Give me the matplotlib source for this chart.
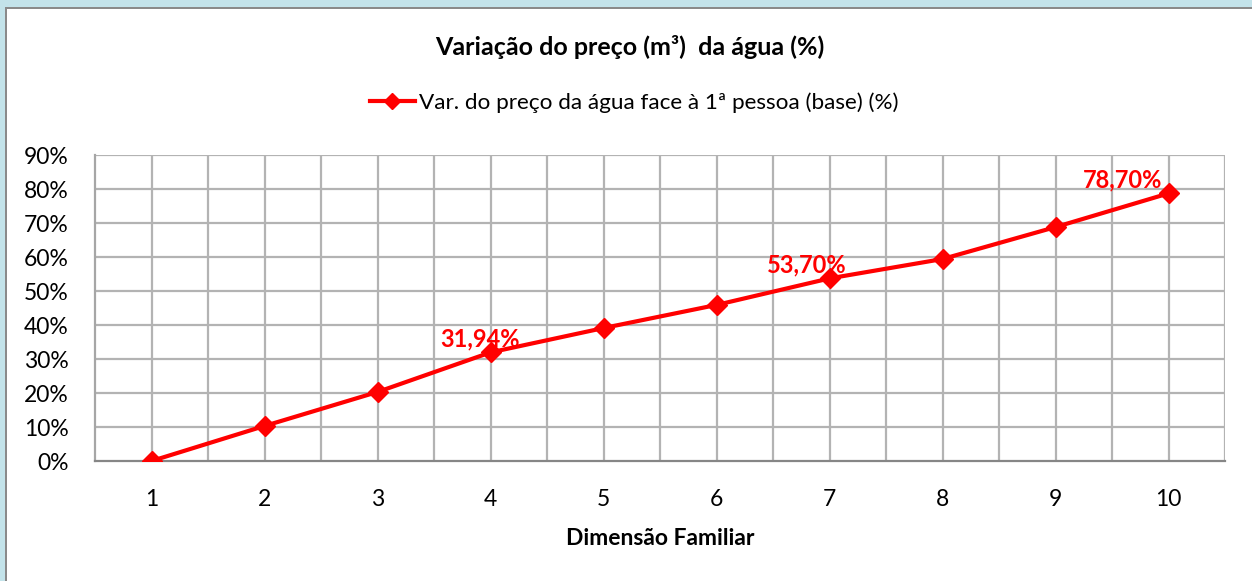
import matplotlib
matplotlib.use("Agg")
import matplotlib.pyplot as plt
from matplotlib.patches import Rectangle
from matplotlib.ticker import FuncFormatter, MultipleLocator

plt.rcParams['font.family'] = ['Lato', 'DejaVu Sans']

# Data
dimensao = [1, 2, 3, 4, 5, 6, 7, 8, 9, 10]
variacao = [0.0, 10.3, 20.3, 31.94, 39.1, 45.9, 53.70, 59.4, 68.8, 78.70]
rotulos = {4: "31,94%", 7: "53,70%", 10: "78,70%"}
titulo = "Variação do preço (m³)  da água (%)"
serie = "Var. do preço da água face à 1ª pessoa (base) (%)"
eixo_x = "Dimensão Familiar"

W, H = 1252, 581
fig = plt.figure(figsize=(W / 100, H / 100), dpi=100)
fig.patch.set_facecolor("#c3e3ea")

# White chart area with a grey frame
fig.patches.append(Rectangle((5 / W, 0), 1, 1 - 7 / H, transform=fig.transFigure,
                             facecolor="#8a8a8a", edgecolor="none", zorder=-10))
fig.patches.append(Rectangle((7 / W, 0), 1, 1 - 9 / H, transform=fig.transFigure,
                             facecolor="white", edgecolor="none", zorder=-9))

ax = fig.add_axes([95 / W, 120 / H, (1225 - 95) / W, (461 - 155) / H])
ax.set_zorder(1)
ax.set_facecolor("white")

red = "#ff0000"
line, = ax.plot(dimensao, variacao, color=red, linewidth=3.0, marker="D",
                markersize=10, markerfacecolor=red, markeredgecolor=red,
                zorder=3, label=serie)

ax.set_xlim(0.5, 10.5)
ax.set_ylim(0, 90)
ax.yaxis.set_major_locator(MultipleLocator(10))
ax.yaxis.set_major_formatter(FuncFormatter(lambda v, p: f"{int(round(v))}%"))
ax.set_xticks(dimensao)
ax.set_xticklabels([str(d) for d in dimensao])

# Grid: horizontal every 10 %, vertical every half category
for y in range(10, 91, 10):
    ax.axhline(y, color="#b3b3b3", linewidth=1.6, zorder=1)
x = 1.0
while x <= 10.5:
    ax.axvline(x, color="#b3b3b3", linewidth=1.6, zorder=1)
    x += 0.5

for s in ["top", "right"]:
    ax.spines[s].set_visible(False)
ax.spines["left"].set_color("#a6a6a6")
ax.spines["left"].set_linewidth(1.6)
ax.spines["bottom"].set_color("#868686")
ax.spines["bottom"].set_linewidth(1.6)
ax.tick_params(axis="both", length=0, labelsize=16.5, colors="black")
ax.tick_params(axis="x", pad=20)
ax.tick_params(axis="y", pad=19)

# Value labels
offsets = {4: (-10, 2), 7: (-23, 2), 10: (-46, 2)}
for d, v in zip(dimensao, variacao):
    if d in rotulos:
        ax.annotate(rotulos[d], (d, v), xytext=offsets[d], textcoords="offset pixels",
                    ha="center", va="bottom", color=red, fontsize=17,
                    fontweight="bold", zorder=4)

ax.set_xlabel(eixo_x, fontsize=16.5, fontweight="bold", labelpad=13)

fig.text(630 / W, 1 - 47 / H, titulo, ha="center", va="center",
         fontsize=18, fontweight="bold")
fig.legend(handles=[line], loc="center", bbox_to_anchor=(634 / W, 1 - 103 / H),
           frameon=False, fontsize=16.2, handlelength=2.0, handletextpad=0.2,
           markerscale=0.8)

fig.savefig("out.png", dpi=100, facecolor=fig.get_facecolor())
